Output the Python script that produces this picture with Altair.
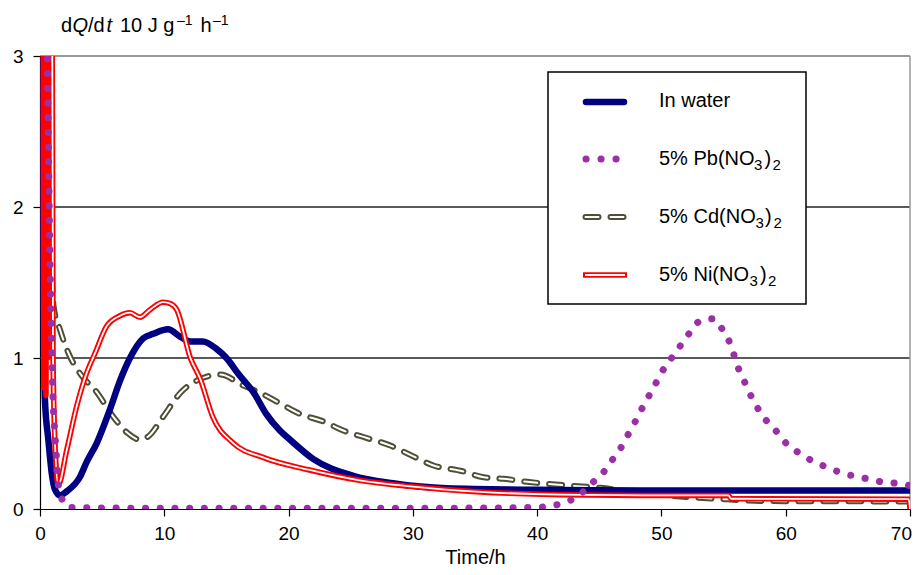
import altair as alt
import pandas as pd

FONT = "Liberation Sans"

# ---- data ----
water_t = [0.12, 0.22, 0.3, 0.4, 0.67, 0.94, 1.2, 1.6, 2.2, 3.2, 3.75, 4.56, 5.63, 6.44, 7.24, 8.3,
           9.1, 10.3, 11.3, 12.1, 13.1, 14.2, 15.0, 16.0, 17.2, 18.2, 19.3, 20.1, 22.0, 25.2,
           28.4, 32.7, 41.8, 50.0, 60.0, 70.0]
water_v = [6.0, 2.2, 1.2, 0.72, 0.46, 0.24, 0.13, 0.09, 0.12, 0.21, 0.31, 0.435, 0.66, 0.85, 1.0, 1.13,
           1.16, 1.19, 1.14, 1.11, 1.11, 1.06, 1.0, 0.89, 0.77, 0.63, 0.52, 0.46, 0.33, 0.22,
           0.17, 0.137, 0.126, 0.122, 0.122, 0.122]

pb_t = [0.25, 0.9, 1.07, 1.2, 1.3, 1.4, 1.75, 2.3, 10.0, 20.0, 30.0, 40.0, 41.0, 42.5, 43.5, 44.4,
        45.3, 46.0, 46.7, 47.3, 47.9, 48.4, 49.0, 49.6, 50.2, 50.9, 51.6, 52.3, 53.1, 54.2, 54.9,
        55.4, 55.8, 56.2, 56.7, 57.2, 57.8, 58.5, 59.3, 60.1, 61.1, 62.1, 63.2, 64.3, 65.4, 66.6,
        67.7, 68.9, 70.0]
pb_v = [6.0, 1.2, 0.68, 0.5, 0.37, 0.21, 0.07, 0.01, 0.005, 0.005, 0.005, 0.01, 0.02, 0.05, 0.10, 0.17,
        0.24, 0.32, 0.40, 0.49, 0.58, 0.66, 0.75, 0.84, 0.93, 1.01, 1.09, 1.17, 1.245, 1.26, 1.19,
        1.12, 1.03, 0.93, 0.84, 0.75, 0.66, 0.58, 0.51, 0.43, 0.37, 0.32, 0.28, 0.245, 0.22, 0.20,
        0.18, 0.17, 0.155]

cd_t = [0.3, 0.85, 0.95, 1.1, 1.6, 2.3, 3.2, 4.6, 5.9, 7.1, 8.0, 8.7, 9.9, 11.3, 12.6, 14.5, 16.3,
        17.7, 19.3, 20.9, 22.8, 24.4, 26.3, 28.2, 30.0, 31.6, 34.0, 35.7, 37.3, 39.2, 41.8, 45.1,
        48.3, 52.0, 55.3, 58.0, 70.0]
cd_v = [6.0, 2.3, 1.6, 1.34, 1.19, 1.03, 0.9, 0.77, 0.61, 0.5, 0.46, 0.48, 0.61, 0.77, 0.85, 0.89, 0.82,
        0.77, 0.70, 0.63, 0.58, 0.52, 0.47, 0.42, 0.35, 0.29, 0.25, 0.21, 0.20, 0.18, 0.16, 0.14,
        0.108, 0.08, 0.064, 0.053, 0.05]

# noisy start of the Ni(NO3)2 trace (off-scale oscillation during the first hour)
ni_start_t = [0.22, 0.32, 0.4, 0.48, 0.56, 0.64, 0.72, 0.8]
ni_start_v = [6.0, 0.8, 6.0, 0.75, 6.0, 1.0, 6.0, 1.6]
ni_t = [0.9, 1.05, 1.2, 1.47, 2.15, 2.95, 3.75, 4.42, 5.36, 6.44,
        7.24, 8.04, 8.85, 9.9, 10.5, 11.0, 12.1, 12.9, 13.9, 15.5, 18.0, 21.6, 25.7, 29.8, 35.1,
        41.8, 50.0, 55.4, 55.6, 69.9, 70.0]
ni_v = [6.0, 1.0, 0.45, 0.16, 0.39, 0.68, 0.90, 1.03, 1.21, 1.28,
        1.30, 1.27, 1.32, 1.37, 1.36, 1.32, 1.0, 0.86, 0.61, 0.44, 0.34, 0.26, 0.19, 0.15, 0.115,
        0.095, 0.09, 0.09, 0.068, 0.065, 0.0]

grid_levels = [1, 2]
top_level = [3]
right_edge = [70]
x_ticks = [0, 10, 20, 30, 40, 50, 60, 70]
y_ticks = [0, 1, 2, 3]

NAVY = "#000080"
PURPLE = "#9b2fa6"
OLIVE = "#4f4f36"
RED = "#ff0000"

# ---- helpers ----
def df(t, v):
    return pd.DataFrame({"t": t, "v": v})

xs = alt.Scale(domain=[0, 70], nice=False, zero=False)
ys = alt.Scale(domain=[0, 3], nice=False)
x_axis = alt.Axis(values=x_ticks, format="d", grid=False, tickSize=7, tickColor="black", tickWidth=1.2,
                  domainColor="black", domainWidth=1.2, labelFontSize=19, labelColor="black",
                  labelPadding=8, title="Time/h", titleFontSize=20, titleFontWeight="normal",
                  titleColor="black", titlePadding=4, labelFlush=False,
                  labelAlign={"condition": {"test": "datum.value === 70", "value": "right"}, "value": "center"},
                  labelOffset={"condition": {"test": "datum.value === 70", "value": 1.5}, "value": 0})
y_axis = alt.Axis(values=y_ticks, format="d", grid=False, tickSize=7, tickColor="black", tickWidth=1.2,
                  domainColor="black", domainWidth=1.2, labelFontSize=19, labelColor="black",
                  labelPadding=10, title=None)

X = alt.X("t:Q", scale=xs, axis=x_axis)
Y = alt.Y("v:Q", scale=ys, axis=y_axis)

def series(t, v, **style):
    return alt.Chart(df(t, v)).mark_line(clip=True, interpolate="monotone", **style).encode(x=X, y=Y)

one = pd.DataFrame({"k": [0]})

def px(x):  # page x -> plot x
    return x - 40

def py(y):  # page y -> plot y
    return y - 56

def seg(x1, x2, yp, **style):
    return alt.Chart(one).mark_rule(**style).encode(
        x=alt.value(px(x1)), x2=alt.value(px(x2)), y=alt.value(py(yp)))

def txt(s, xp, yp, size=20, italic=False):
    return alt.Chart(pd.DataFrame({"s": [s]})).mark_text(
        align="left", baseline="alphabetic", fontSize=size, font=FONT,
        fontStyle="italic" if italic else "normal", color="black").encode(
        x=alt.value(px(xp)), y=alt.value(py(yp)), text="s:N")

# ---- frame ----
grid = alt.Chart(pd.DataFrame({"v": grid_levels})).mark_rule(color="#222222", strokeWidth=1.3).encode(y=Y)
top = alt.Chart(pd.DataFrame({"v": top_level})).mark_rule(color="#999999", strokeWidth=2).encode(y=Y)
right = alt.Chart(pd.DataFrame({"t": right_edge})).mark_rule(color="#999999", strokeWidth=1.5).encode(x=X)

# ---- series ----
cd_outer = series(cd_t, cd_v, color=OLIVE, strokeWidth=6, strokeDash=[13, 12], strokeCap="round")
cd_inner = series(cd_t, cd_v, color="#ffffff", strokeWidth=2, strokeDash=[13, 12], strokeCap="round")
water = series(water_t, water_v, color=NAVY, strokeWidth=6.5, strokeCap="round")
ni_band = series(ni_start_t + ni_t[:1], ni_start_v + ni_v[:1], color=RED, strokeWidth=5.5)
ni_outer = series(ni_t, ni_v, color=RED, strokeWidth=5.5)
ni_inner = series(ni_t, ni_v, color="#ffffff", strokeWidth=1.8)
pb = series(pb_t, pb_v, color=PURPLE, strokeWidth=7, strokeDash=[0.1, 14.6], strokeCap="round")

# ---- legend ----
box = alt.Chart(one).mark_rect(fill="white", stroke="black", strokeWidth=1.5).encode(
    x=alt.value(px(548)), x2=alt.value(px(806)), y=alt.value(py(72)), y2=alt.value(py(304)))

rows = [102, 159, 217, 275]
leg = [
    seg(586, 624, rows[0], color=NAVY, strokeWidth=6.5, strokeCap="round"),
    seg(586, 617, rows[1], color=PURPLE, strokeWidth=7, strokeDash=[0.1, 14.9], strokeCap="round"),
    seg(585.5, 623.5, rows[2], color=OLIVE, strokeWidth=6, strokeDash=[13, 12], strokeCap="round"),
    seg(585.5, 623.5, rows[2], color="#ffffff", strokeWidth=2, strokeDash=[13, 12], strokeCap="round"),
    seg(583, 627, rows[3], color=RED, strokeWidth=5.5),
    seg(585, 625, rows[3], color="#ffffff", strokeWidth=1.8),
]

legend_names = ["In water", "5% Pb(NO", "5% Cd(NO", "5% Ni(NO"]
base_lines = [107, 165, 223, 281]
sub_x = [None, (754, 764.5, 772.5), (755.5, 765, 773.5), (749.5, 760, 768)]
leg_txt = []
for name, bl, sx in zip(legend_names, base_lines, sub_x):
    leg_txt.append(txt(name, 659, bl))
    if sx:
        leg_txt.append(txt("3", sx[0], bl + 5, size=15))
        leg_txt.append(txt(")", sx[1], bl))
        leg_txt.append(txt("2", sx[2], bl + 5, size=15))

# ---- y title: dQ/dt 10 J g-1 h-1 ----
ytitle = [
    txt("d", 61, 32),
    txt("Q", 72.5, 32, italic=True),
    txt("/d", 88, 32),
    txt("t", 106.5, 32, italic=True),
    txt("10 J g", 120, 32),
    txt("\u20131", 177, 25, size=14),
    txt("h", 200.5, 32),
    txt("\u20131", 213, 25, size=14),
]

chart = alt.layer(
    grid, top, right, cd_outer, cd_inner, water, ni_band, ni_outer, ni_inner, pb, box,
    *leg, *leg_txt, *ytitle
).properties(
    width=870, height=453,
    padding={"left": 32, "top": 48, "right": 2, "bottom": 58},
    autosize=alt.AutoSizeParams(type="none"),
).configure_view(stroke=None).configure_axis(labelFont=FONT, titleFont=FONT)

chart.save("out.html", embed_options={"renderer": "svg", "actions": False})
